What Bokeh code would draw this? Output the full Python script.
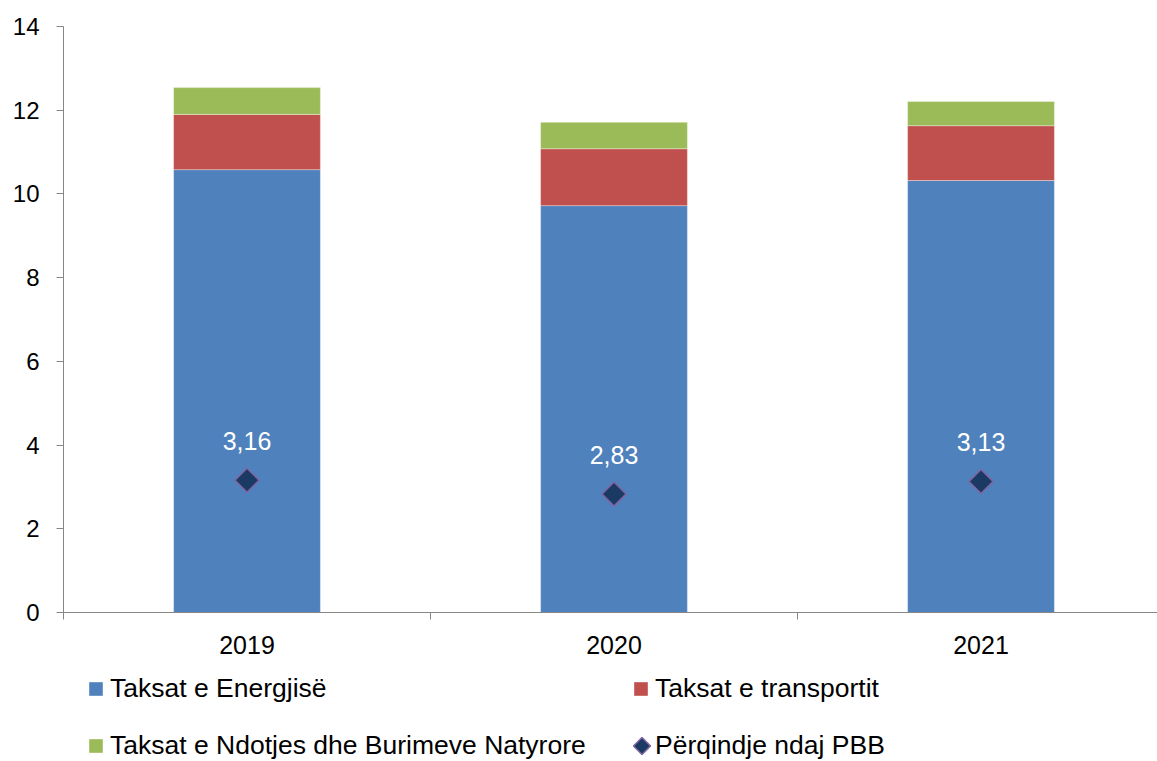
import math
from bokeh.plotting import figure
from bokeh.layouts import column
from bokeh.models import (ColumnDataSource, Range1d, FixedTicker, Legend, LegendItem)
from bokeh.core.properties import value
from bokeh.embed import file_html
from bokeh.resources import INLINE

years = ["2019", "2020", "2021"]
energy = [10.58, 9.72, 10.32]
transport = [1.32, 1.36, 1.31]
pollution = [0.64, 0.63, 0.58]
pbb = [3.16, 2.83, 3.13]
pbb_labels = ["3,16", "2,83", "3,13"]
series_names = ["Taksat e Energjisë", "Taksat e transportit",
                "Taksat e Ndotjes dhe Burimeve Natyrore", "Përqindje ndaj PBB"]

FONT = "Liberation Sans"
colors = ["#4F81BD", "#C0504D", "#9BBB59"]
marker_fill = "#1B3A63"
marker_line = "#8064A2"
xs = [i + 1 for i in range(len(years))]

src = ColumnDataSource(dict(x=xs, energy=energy, transport=transport,
                            pollution=pollution, pbb=pbb, lab=pbb_labels))

LEFT = 63
FRAME_W = 1094

p = figure(width=1157, height=670, output_backend="svg", toolbar_location=None,
           x_range=Range1d(0.5, 0.5 + FRAME_W / 367), y_range=Range1d(0, 14),
           min_border_left=LEFT, min_border_right=0, min_border_top=26,
           min_border_bottom=58, frame_width=FRAME_W, frame_height=586)
p.outline_line_color = None
p.xgrid.visible = False
p.ygrid.visible = False

rs = p.vbar_stack(["energy", "transport", "pollution"], x="x", width=0.4,
                  source=src, color=colors, line_color="white", line_alpha=0.35,
                  line_width=1)

p.scatter(x="x", y="pbb", source=src, marker="square", angle=math.pi / 4,
          size=17, fill_color=marker_fill, line_color=marker_line, line_width=1.5)

p.text(x="x", y="pbb", text="lab", source=src, text_color="white",
       text_font=value(FONT), text_font_size="25px", text_align="center",
       text_baseline="middle", y_offset=-39)

axis_color = "#868686"
p.yaxis.ticker = FixedTicker(ticks=[0, 2, 4, 6, 8, 10, 12, 14])
p.yaxis.axis_line_color = axis_color
p.yaxis.major_tick_line_color = axis_color
p.yaxis.major_tick_out = 7
p.yaxis.major_tick_in = 0
p.yaxis.minor_tick_line_color = None
p.yaxis.major_label_text_font = FONT
p.yaxis.major_label_text_font_size = "24px"
p.yaxis.major_label_text_color = "black"
p.yaxis.major_label_standoff = 17

p.xaxis.ticker = FixedTicker(ticks=xs, minor_ticks=[0.5, 1.5, 2.5, 3.5])
p.xaxis.major_label_overrides = {x: y for x, y in zip(xs, years)}
p.xaxis.axis_line_color = axis_color
p.xaxis.major_tick_line_color = None
p.xaxis.major_tick_out = 0
p.xaxis.major_tick_in = 0
p.xaxis.minor_tick_line_color = axis_color
p.xaxis.minor_tick_out = 7
p.xaxis.minor_tick_in = 0
p.xaxis.major_label_text_font = FONT
p.xaxis.major_label_text_font_size = "25px"
p.xaxis.major_label_text_color = "black"
p.xaxis.major_label_standoff = 16

# legend strip below the chart; its frame lines up with the chart's frame,
# and its data coordinates are page pixels
LG_H = 91
lg_fig = figure(width=1157, height=LG_H, output_backend="svg", toolbar_location=None,
                x_range=Range1d(LEFT, LEFT + FRAME_W), y_range=Range1d(0, LG_H),
                x_axis_location=None, y_axis_location=None,
                min_border_left=LEFT, min_border_right=0, min_border_top=0,
                min_border_bottom=0, frame_width=FRAME_W, frame_height=LG_H)
lg_fig.outline_line_color = None
lg_fig.xgrid.visible = False
lg_fig.ygrid.visible = False

# proxy glyphs for the legend keys, placed outside the visible range
lr = [lg_fig.vbar(x=[-50], bottom=[-50], top=[-40], width=5, fill_color=c,
                  line_color=None) for c in colors]
lm_proxy = lg_fig.scatter(x=[-50], y=[-50], marker="square", size=5,
                          fill_alpha=0, line_alpha=0)

KEY = 17
ROW1_Y, ROW2_Y = 57, 0
ITEM_H = 31
COL1_KEY_X, COL2_KEY_X = 87, 633


def make_legend(label, rend, key_x, row_y, standoff):
    lg = Legend(items=[LegendItem(label=label, renderers=[rend])],
                location=(key_x - LEFT, row_y),
                orientation="vertical", glyph_width=KEY, glyph_height=KEY,
                label_standoff=standoff, label_text_font=FONT,
                label_text_font_size="26.5px", label_text_color="black",
                padding=0, margin=0, border_line_color=None,
                background_fill_alpha=0, label_height=14)
    lg_fig.add_layout(lg, "center")


make_legend(series_names[0], lr[0], COL1_KEY_X, ROW1_Y, 6)
make_legend(series_names[1], lr[1], COL2_KEY_X - 1, ROW1_Y, 6)
make_legend(series_names[2], lr[2], COL1_KEY_X, ROW2_Y, 6)
make_legend(series_names[3], lm_proxy, COL2_KEY_X, ROW2_Y, 5)

# diamond key for the "Përqindje ndaj PBB" legend entry (rotated square)
lg_fig.scatter(x=[COL2_KEY_X + KEY / 2], y=[ROW2_Y + ITEM_H / 2], marker="square",
               angle=math.pi / 4, size=12, fill_color=marker_fill,
               line_color=marker_line, line_width=1.5)

layout = column(p, lg_fig, spacing=0)
open("out.html", "w").write(file_html(layout, INLINE))
